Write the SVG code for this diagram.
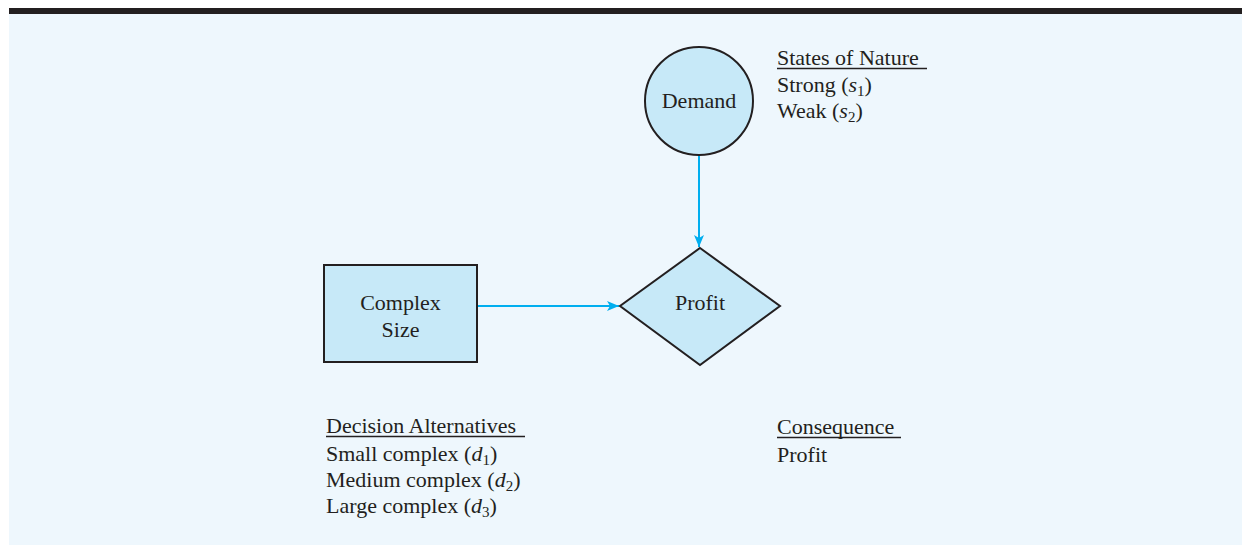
<svg xmlns="http://www.w3.org/2000/svg" width="1244" height="545" viewBox="0 0 1244 545">
<style>
.t{font-family:"Liberation Serif","Times New Roman",serif;font-size:22px;fill:#231f20}
.c{text-anchor:middle}
.sub{font-size:15px}
.node{fill:#c7e9f8;stroke:#231f20;stroke-width:2}
.conn{stroke:#00aeef;stroke-width:2;fill:none}
.ul{stroke:#231f20;stroke-width:1.3}
</style>
<defs>
<marker id="ah" viewBox="0 0 12 10" refX="12" refY="5" markerWidth="12" markerHeight="10" markerUnits="userSpaceOnUse" orient="auto">
<path d="M0,0 L12,5 L0,10 L3,5 Z" fill="#00aeef"/>
</marker>
</defs>
<rect x="0" y="0" width="1244" height="545" fill="#ffffff"/>
<rect x="9" y="14" width="1233" height="531" fill="#eef7fd"/>
<rect x="9" y="8" width="1233" height="6" fill="#231f20"/>
<g id="connectors">
<line class="conn" x1="699" y1="155" x2="699" y2="247" marker-end="url(#ah)"/>
<line class="conn" x1="477" y1="306" x2="619" y2="306" marker-end="url(#ah)"/>
</g>
<g id="demand">
<circle class="node" cx="699" cy="101" r="54"/>
<text class="t c" x="699" y="108">Demand</text>
</g>
<g id="complex-size">
<rect class="node" x="324" y="265" width="153" height="97"/>
<text class="t c" x="400.5" y="310">Complex</text>
<text class="t c" x="400.5" y="337">Size</text>
</g>
<g id="profit">
<polygon class="node" points="700,248 780,306 700,365 620,306"/>
<text class="t c" x="700" y="310">Profit</text>
</g>
<g id="states-of-nature">
<text class="t" x="777" y="65">States of Nature</text>
<line class="ul" x1="777" y1="68.5" x2="927" y2="68.5"/>
<text class="t" x="777" y="92">Strong (<tspan font-style="italic">s</tspan><tspan class="sub" dy="4">1</tspan><tspan dy="-4">)</tspan></text>
<text class="t" x="777" y="118">Weak (<tspan font-style="italic">s</tspan><tspan class="sub" dy="4">2</tspan><tspan dy="-4">)</tspan></text>
</g>
<g id="decision-alternatives">
<text class="t" x="326" y="433">Decision Alternatives</text>
<line class="ul" x1="326" y1="436.5" x2="525" y2="436.5"/>
<text class="t" x="326" y="461">Small complex (<tspan font-style="italic">d</tspan><tspan class="sub" dy="4">1</tspan><tspan dy="-4">)</tspan></text>
<text class="t" x="326" y="487">Medium complex (<tspan font-style="italic">d</tspan><tspan class="sub" dy="4">2</tspan><tspan dy="-4">)</tspan></text>
<text class="t" x="326" y="513">Large complex (<tspan font-style="italic">d</tspan><tspan class="sub" dy="4">3</tspan><tspan dy="-4">)</tspan></text>
</g>
<g id="consequence">
<text class="t" x="777" y="434">Consequence</text>
<line class="ul" x1="777" y1="437.5" x2="901" y2="437.5"/>
<text class="t" x="777" y="462">Profit</text>
</g>
</svg>
